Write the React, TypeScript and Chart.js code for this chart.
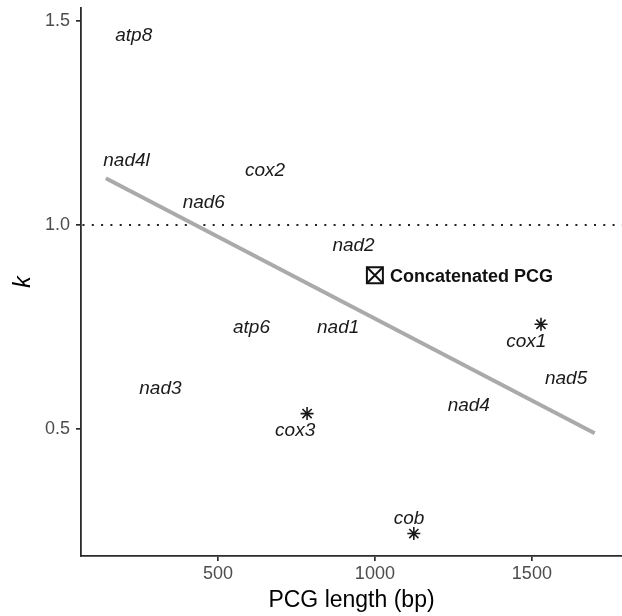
import React, { useEffect, useRef } from 'react';
import { Chart, registerables } from 'chart.js';

Chart.register(...registerables);

// ---- data ----
const geneNames = ['atp8', 'nad4l', 'cox2', 'nad6', 'nad2', 'atp6', 'nad1', 'nad3', 'nad4', 'nad5', 'cox1', 'cox3', 'cob'];
const labelX = [232, 209, 650, 455, 932, 607, 883, 317, 1299, 1609, 1482, 746, 1109];
const labelY = [1.467, 1.161, 1.136, 1.058, 0.952, 0.751, 0.751, 0.603, 0.561, 0.627, 0.719, 0.5, 0.284];

const starGenes = ['cox1', 'cox3', 'cob'];
const starX = [1529, 784, 1124];
const starY = [0.757, 0.538, 0.244];

const concatLabel = 'Concatenated PCG';
const concatX = [1000];
const concatY = [0.877];

const trendX = [143, 1700];
const trendY = [1.115, 0.49];

const refK = 1.0;

const xTicks = [500, 1000, 1500];
const yTicks = [0.5, 1.0, 1.5];
const xRange = [64, 1787];
const yRange = [0.189, 1.532];

const FONT = '"Liberation Sans", Arial, Helvetica, sans-serif';

const labelPlugin = {
  id: 'geneLabels',
  afterDatasetsDraw(chart: any) {
    const { ctx, scales } = chart;
    const x = scales.x;
    const y = scales.y;
    ctx.save();
    ctx.fillStyle = '#1a1a1a';
    ctx.font = `italic 19px ${FONT}`;
    ctx.textAlign = 'center';
    ctx.textBaseline = 'alphabetic';
    geneNames.forEach((g, i) => {
      ctx.fillText(g, x.getPixelForValue(labelX[i]), y.getPixelForValue(labelY[i]) + (19 * 0.716) / 2);
    });
    ctx.font = `bold 18px ${FONT}`;
    ctx.textAlign = 'left';
    ctx.fillStyle = '#111';
    ctx.fillText(
      concatLabel,
      x.getPixelForValue(concatX[0]) + 15,
      y.getPixelForValue(concatY[0]) + (18 * 0.716) / 2
    );
    ctx.restore();
  },
};

const zeroPad = (s: any) => {
  s.paddingLeft = 0;
  s.paddingRight = 0;
  s.paddingTop = 0;
  s.paddingBottom = 0;
};

export default function App() {
  const ref = useRef<HTMLCanvasElement | null>(null);

  useEffect(() => {
    document.body.style.margin = '0';
    const canvas = ref.current;
    if (!canvas) return;

    const axisCommon = {
      type: 'linear' as const,
      grid: {
        display: true,
        drawOnChartArea: false,
        drawTicks: true,
        tickLength: 5,
        color: '#2b2b2b',
        lineWidth: 1.7,
      },
      border: { display: true, color: '#2b2b2b', width: 1.8 },
    };

    const chart = new Chart(canvas, {
      type: 'scatter',
      data: {
        datasets: [
          {
            label: 'stars',
            data: starX.map((v, i) => ({ x: v, y: starY[i] })),
            pointStyle: 'star',
            pointRadius: 6.5,
            pointBorderWidth: 1.6,
            pointBorderColor: '#1a1a1a',
            pointBackgroundColor: 'rgba(0,0,0,0)',
            showLine: false,
          },
          {
            label: 'concatBox',
            data: concatX.map((v, i) => ({ x: v, y: concatY[i] })),
            pointStyle: 'rect',
            pointRadius: 11.3,
            pointBorderWidth: 2,
            pointBorderColor: '#111',
            pointBackgroundColor: 'rgba(0,0,0,0)',
            showLine: false,
          },
          {
            label: 'concatCross',
            data: concatX.map((v, i) => ({ x: v, y: concatY[i] })),
            pointStyle: 'crossRot',
            pointRadius: 11.3,
            pointBorderWidth: 2,
            pointBorderColor: '#111',
            showLine: false,
          },
          {
            label: 'trend',
            data: trendX.map((v, i) => ({ x: v, y: trendY[i] })),
            showLine: true,
            borderColor: '#aaaaaa',
            borderWidth: 4,
            pointRadius: 0,
          },
          {
            label: 'ref',
            data: [
              { x: xRange[0], y: refK },
              { x: xRange[1], y: refK },
            ],
            showLine: true,
            borderColor: '#222',
            borderWidth: 2,
            borderDash: [2, 7.3],
            borderDashOffset: -1.5,
            pointRadius: 0,
          },
        ],
      },
      options: {
        responsive: false,
        animation: false,
        devicePixelRatio: 1,
        layout: { autoPadding: false, padding: { top: 8, right: 0, left: 0, bottom: 0 } },
        plugins: {
          legend: { display: false },
          tooltip: { enabled: false },
        },
        scales: {
          x: {
            ...axisCommon,
            position: 'bottom',
            min: xRange[0],
            max: xRange[1],
            afterBuildTicks: (s: any) => {
              s.ticks = xTicks.map((v) => ({ value: v }));
            },
            afterFit: (s: any) => {
              s.height = 60;
              zeroPad(s);
            },
            ticks: {
              font: { family: FONT, size: 18 },
              color: '#4d4d4d',
              padding: 2,
              maxRotation: 0,
              autoSkip: false,
              callback: (v: any) => String(v),
            },
            title: {
              display: true,
              text: 'PCG length (bp)',
              font: { family: FONT, size: 23 },
              color: '#000',
              padding: { top: 0, bottom: 2 },
            },
          },
          y: {
            ...axisCommon,
            position: 'left',
            min: yRange[0],
            max: yRange[1],
            afterBuildTicks: (s: any) => {
              s.ticks = yTicks.map((v) => ({ value: v }));
            },
            afterFit: (s: any) => {
              s.width = 81;
              zeroPad(s);
            },
            ticks: {
              font: { family: FONT, size: 18 },
              color: '#4d4d4d',
              padding: 6,
              autoSkip: false,
              callback: (v: any) => Number(v).toFixed(1),
            },
            title: {
              display: true,
              text: 'k',
              font: { family: FONT, size: 23, style: 'italic' },
              color: '#000',
              padding: { top: 10, bottom: 0 },
            },
          },
        },
      },
      plugins: [labelPlugin],
    } as any);

    return () => {
      chart.destroy();
    };
  }, []);

  return (
    <canvas ref={ref} width={622} height={616} style={{ display: 'block', width: 622, height: 616 }} />
  );
}
